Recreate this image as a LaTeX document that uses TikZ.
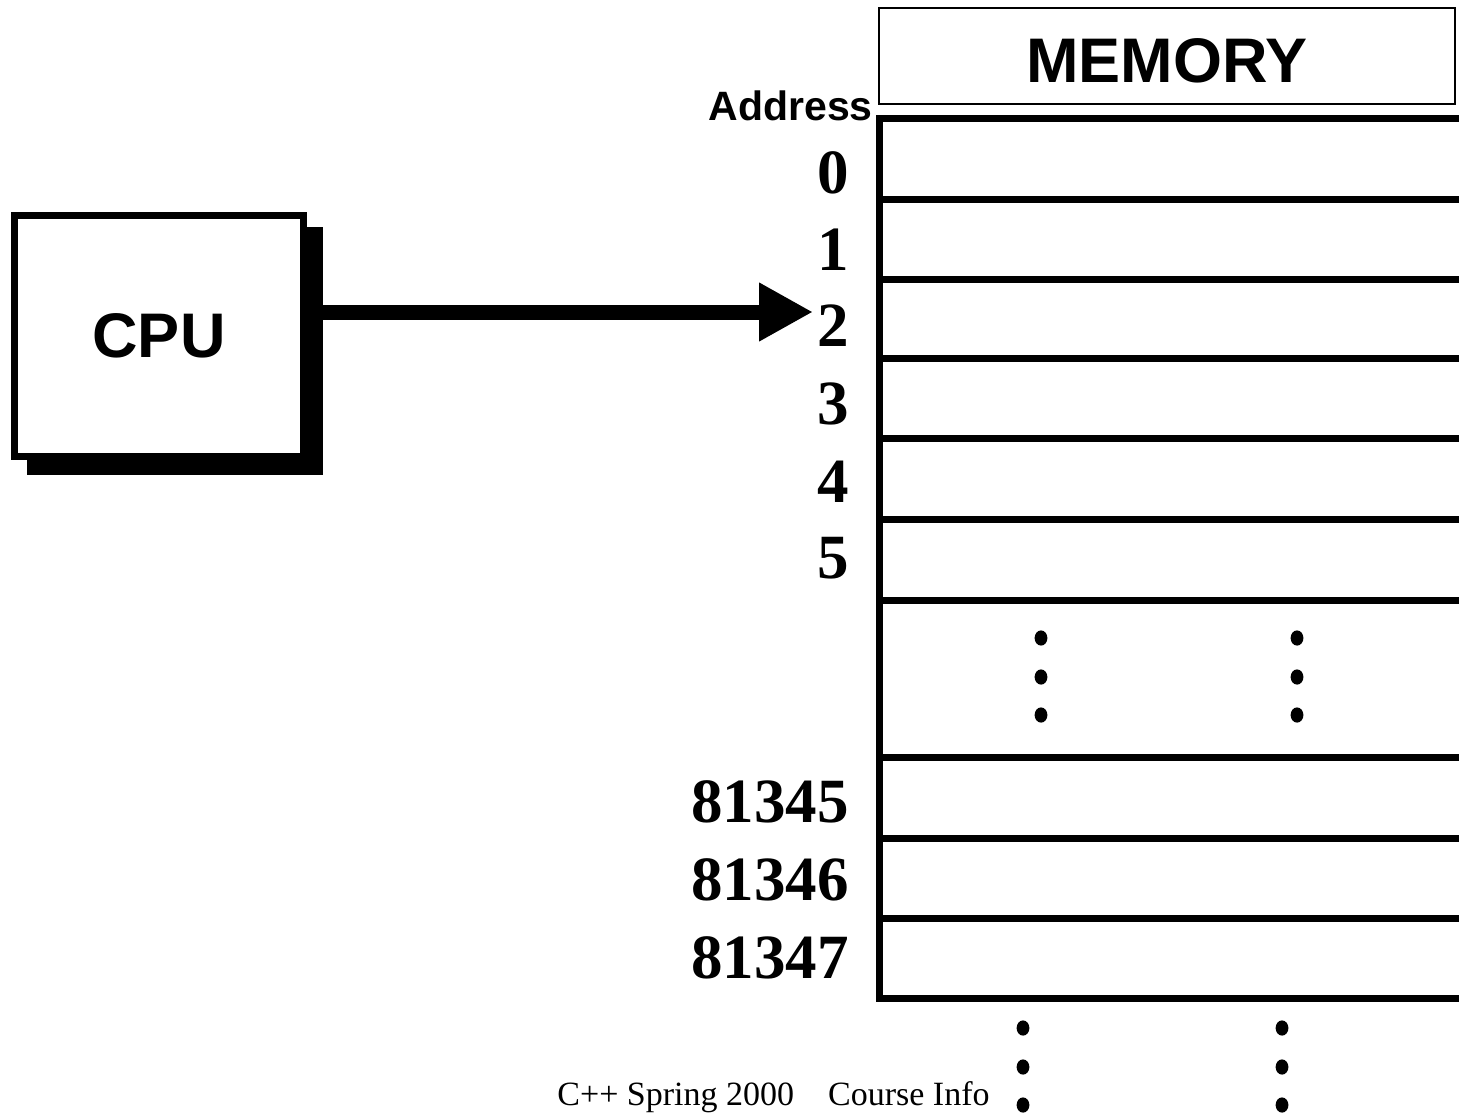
\documentclass[tikz,border=0pt]{standalone}
\usepackage{fontspec}
\setmainfont{Liberation Serif}
\setsansfont{Liberation Sans}
\usetikzlibrary{arrows.meta}
\begin{document}
\begin{tikzpicture}[x=0.5pt,y=-0.5pt,
  memline/.style={line width=3.5pt,line cap=butt},
  addr/.style={font=\fontsize{31.5pt}{31.5pt}\selectfont\rmfamily\bfseries,anchor=base east,inner sep=0pt},
  dotmark/.style={fill=black},
  sanslab/.style={font=\sffamily\bfseries,inner sep=0pt}]
\useasboundingbox (0,0) rectangle (1459,1114);
% CPU with shadow
\node[fill=black,minimum width=148pt,minimum height=124pt,inner sep=0pt] (shadow) at (175,351) {};
\node[draw,fill=white,line width=3.5pt,minimum width=144.5pt,minimum height=120.5pt,inner sep=0pt,
  font=\fontsize{31.5pt}{31.5pt}\selectfont\sffamily\bfseries] (cpu) at (159,336) {CPU};
% Memory title
\node[draw,line width=0.6pt,minimum width=288pt,minimum height=48pt,inner sep=0pt] (membox) at (1167,56) {};
\node[sanslab,anchor=base,font=\fontsize{31.5pt}{31.5pt}\selectfont\sffamily\bfseries] (memtitle) at (1167,82) {MEMORY};
\node[sanslab,anchor=base east,font=\fontsize{20.5pt}{20.5pt}\selectfont\sffamily\bfseries] (addrlab) at (873,120) {Address};
% Memory frame
\coordinate (mtl) at (1459,118);
\coordinate (mbl) at (879,998);
\draw[memline] (mtl) -| (mbl) -- (1459,998);
\foreach \yy in {199,279,358,438,519,600,757,838,918}
  \draw[memline] (879,\yy) -- (1459,\yy);
% Address labels
\node[addr] (a0) at (849,193) {0};
\node[addr] (a1) at (849,270) {1};
\node[addr] (a2) at (849,346) {2};
\node[addr] (a3) at (849,424) {3};
\node[addr] (a4) at (849,502) {4};
\node[addr] (a5) at (849,578) {5};
\node[addr] (a81345) at (849,822) {81345};
\node[addr] (a81346) at (849,900) {81346};
\node[addr] (a81347) at (849,978) {81347};
% Dots
\foreach \xx/\yy in {1041/638,1041/677,1041/715,1297/638,1297/677,1297/715,1023/1028,1023/1067,1023/1105,1282/1028,1282/1067,1282/1105}
  \fill[dotmark] (\xx,\yy) ellipse [x radius=3.2pt,y radius=3.8pt];
% Arrow
\coordinate (tip) at (813,312);
\draw[line width=7.5pt,-{Triangle[length=27pt,width=27.5pt]}] (shadow.east |- tip) -- (tip);
% Footer
\node[anchor=base west,inner sep=0pt,font=\fontsize{17pt}{17pt}\selectfont\rmfamily] (footer) at (557,1105) {C++ Spring 2000\hspace{17pt}Course Info};
\end{tikzpicture}
\end{document}
